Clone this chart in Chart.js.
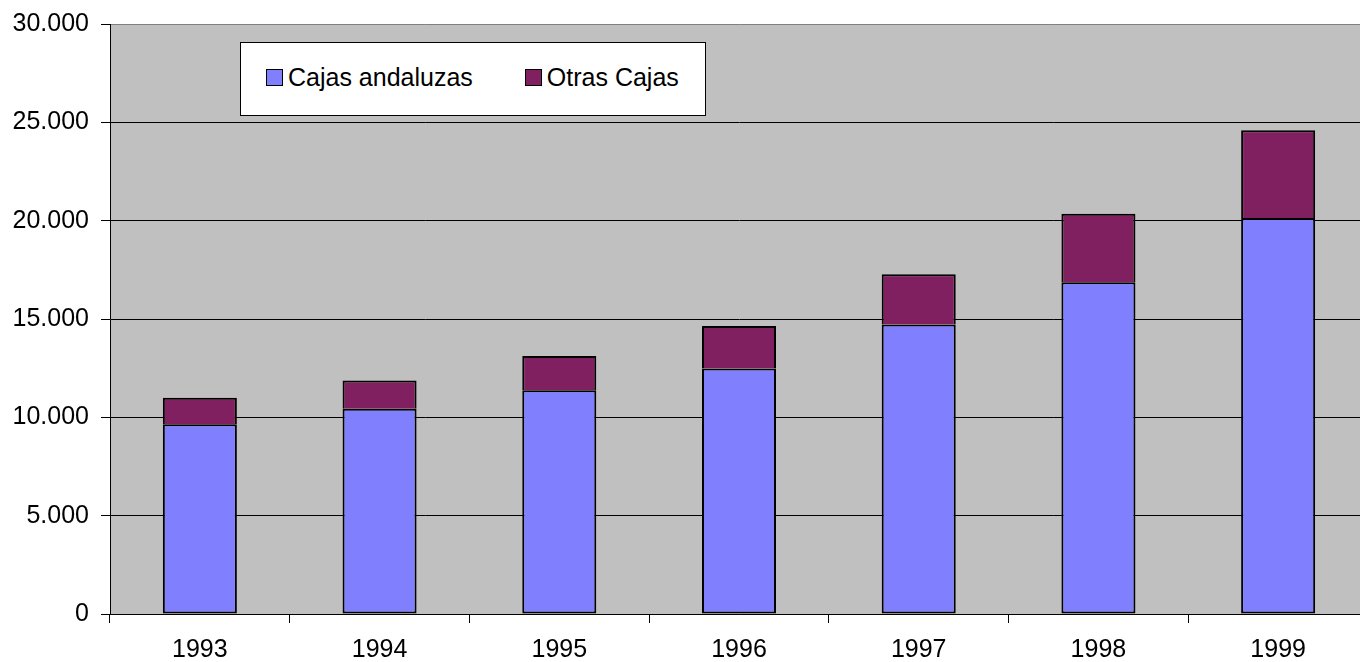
<!DOCTYPE html>
<html lang="es">
<head>
    <meta charset="UTF-8">
    <title>Cajas andaluzas / Otras Cajas</title>
    <script src="https://cdn.jsdelivr.net/npm/chart.js@4.4.0/dist/chart.umd.min.js"></script>
    <style>
        body { margin: 0; background: #fff; overflow: hidden; }
        #wrap { position: relative; width: 1368px; height: 662px; }
        #legend {
            position: absolute; left: 240px; top: 42px; width: 466px; height: 74px;
            box-sizing: border-box; background: #fff; border: 1px solid #000;
            display: flex; align-items: center; padding-left: 25px; padding-bottom: 3px;
            font-family: "Liberation Sans", Arial, sans-serif; font-size: 25px; color: #000;
            white-space: nowrap;
        }
        .item { display: flex; align-items: center; margin-right: 52px; }
        .swatch { width: 17px; height: 17px; box-sizing: border-box; border: 1.5px solid #000; margin-right: 5px; }
    </style>
</head>
<body>
    <div id="wrap">
        <canvas id="chart"></canvas>
        <div id="legend"></div>
    </div>

    <script>
        const years = ['1993', '1994', '1995', '1996', '1997', '1998', '1999'];
        const cajasAndaluzas = [9650, 10440, 11380, 12480, 14720, 16870, 20130];
        const otrasCajas = [1350, 1430, 1740, 2170, 2560, 3480, 4470];
        const yTicks = [0, 5000, 10000, 15000, 20000, 25000, 30000];

        const seriesNames = ['Cajas andaluzas', 'Otras Cajas'];
        const seriesColors = ['#8080ff', '#802060'];

        const fmt = v => String(v).replace(/\B(?=(\d{3})+(?!\d))/g, '.');

        // grey plot background
        const plotBg = {
            id: 'plotBg',
            beforeDraw(chart) {
                const { ctx, chartArea: a } = chart;
                ctx.save();
                ctx.fillStyle = '#c0c0c0';
                ctx.fillRect(a.left, a.top, a.right - a.left, a.bottom - a.top);
                ctx.restore();
            }
        };

        const font = { family: '"Liberation Sans", Arial, sans-serif', size: 25 };

        new Chart(document.getElementById('chart'), {
            type: 'bar',
            data: {
                labels: years,
                datasets: [cajasAndaluzas, otrasCajas].map((d, i) => ({
                    label: seriesNames[i],
                    data: d,
                    backgroundColor: seriesColors[i],
                    borderColor: '#000',
                    borderWidth: 2,
                    // top segment shares the lower segment's top edge
                    borderSkipped: i === 0 ? false : 'bottom',
                    barPercentage: 0.412,
                    categoryPercentage: 1
                }))
            },
            options: {
                responsive: true,
                maintainAspectRatio: false,
                animation: false,
                layout: { padding: { top: 24, right: 0, left: 0, bottom: 0 } },
                plugins: { legend: { display: false }, tooltip: { enabled: false } },
                scales: {
                    x: {
                        stacked: true,
                        grid: { drawOnChartArea: false, drawTicks: true, tickLength: 9, color: '#000', offset: true },
                        border: { color: '#000', width: 1 },
                        ticks: { color: '#000', font, padding: 12, maxRotation: 0 },
                        afterFit(s) { s.height = 48; }
                    },
                    y: {
                        stacked: true,
                        min: 0,
                        max: 30000,
                        afterBuildTicks(s) { s.ticks = yTicks.map(v => ({ value: v })); },
                        grid: {
                            color: c => (c.tick && c.tick.value === 30000 ? '#808080' : '#000'),
                            tickColor: '#000',
                            tickLength: 9,
                            lineWidth: 1
                        },
                        border: { color: '#000', width: 1 },
                        ticks: { color: '#000', font, padding: 12, callback: v => fmt(v) },
                        afterFit(s) {
                            s.width = 110;
                            s.paddingTop = 0;
                            s.paddingBottom = 0;
                        }
                    }
                }
            },
            plugins: [plotBg]
        });

        // legend box drawn over the plot
        document.getElementById('legend').innerHTML = seriesNames.map((n, i) =>
            `<div class="item"><div class="swatch" style="background:${seriesColors[i]}"></div><span>${n}</span></div>`
        ).join('');
    </script>
</body>
</html>
